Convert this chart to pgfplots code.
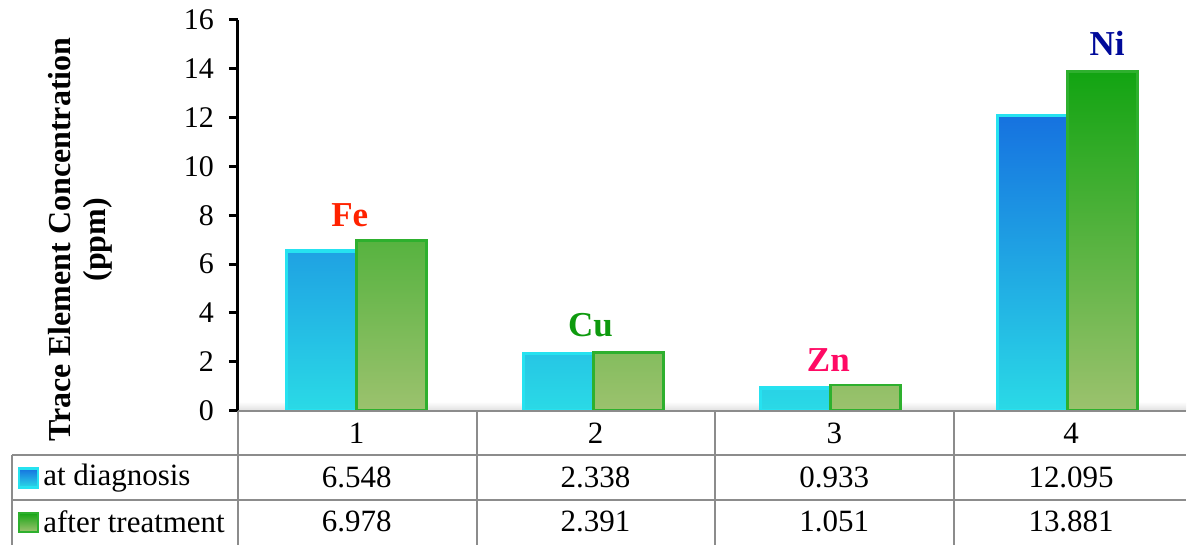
\documentclass[border=0pt]{standalone}
\usepackage{pgfplots}
\pgfplotsset{compat=1.18}
\usepackage{fontspec}
\setmainfont{Liberation Serif}
\definecolor{diagtop}{HTML}{1672E0}
\definecolor{diagmid}{HTML}{1E98E4}
\definecolor{diagbot}{HTML}{2ADAE6}
\definecolor{diagedge}{HTML}{26E2F0}
\definecolor{treattop}{HTML}{12A412}
\definecolor{treatmid}{HTML}{4AAE3A}
\definecolor{treatbot}{HTML}{9CC26E}
\definecolor{treatedge}{HTML}{2EB02E}
\definecolor{gridgrey}{HTML}{8C8C8C}
\definecolor{feRed}{HTML}{FF2200}
\definecolor{cuGreen}{HTML}{0E9A0E}
\definecolor{znPink}{HTML}{FF0A64}
\definecolor{niBlue}{HTML}{000A9A}
\begin{document}
\begin{tikzpicture}
\begin{scope}[x=0.5pt,y=-0.5pt]
\path (0,0) rectangle (1187,545);
% floor
\shade[top color=white,bottom color=black!12] (238,402) rectangle (1187,411);
\end{scope}
\begin{axis}[
  at={(119pt,-205.5pt)}, anchor=south west,
  scale only axis, width=474.5pt, height=195.5pt,
  xmin=0.5, xmax=4.5, ymin=0, ymax=16,
  ytick={0,2,...,16}, xtick=\empty,
  axis x line=none, axis y line=left,
  axis line style={-, black, line width=1.5pt},
  y axis line style={-},
  tick align=outside, major tick length=4.5pt,
  ytick style={black, line width=1.5pt},
  yticklabel style={font=\fontsize{15}{16}\selectfont, xshift=-4pt},
  /pgf/number format/assume math mode=true,
  ybar=0pt, bar width=35pt,
  clip=false,
]
\addplot[draw=diagedge, line width=1.8pt, top color=diagtop, middle color=diagmid, bottom color=diagbot]
  coordinates {(1,6.548) (2,2.338) (3,0.933) (4,12.095)};
\addplot[draw=treatedge, line width=1.4pt, top color=treattop, middle color=treatmid, bottom color=treatbot]
  coordinates {(1,6.978) (2,2.391) (3,1.051) (4,13.881)};
\end{axis}
\begin{scope}[x=0.5pt,y=-0.5pt]
% floor line
\draw[gridgrey, line width=1pt] (238,411) -- (1187,411);
% table lines
\draw[gridgrey, line width=1pt] (12,455.5) -- (1187,455.5);
\draw[gridgrey, line width=1pt] (12,500.5) -- (1187,500.5);
\draw[gridgrey, line width=1pt] (12,455) -- (12,545);
\foreach \xx in {238,477,716,955} \draw[gridgrey, line width=1pt] (\xx,411.5) -- (\xx,545);
% element labels
\node[font=\fontsize{17.5}{20}\selectfont\bfseries, text=feRed] at (350,215) {Fe};
\node[font=\fontsize{17.5}{20}\selectfont\bfseries, text=cuGreen] at (591,325) {Cu};
\node[font=\fontsize{17.5}{20}\selectfont\bfseries, text=znPink] at (829,360) {Zn};
\node[font=\fontsize{17.5}{20}\selectfont\bfseries, text=niBlue] at (1108,43) {Ni};
% y label
\node[rotate=90, align=center, font=\fontsize{16}{17.5}\selectfont\bfseries] at (80,240) {Trace Element Concentration\\(ppm)};
% table text
\foreach \cx/\lab in {357/1,596/2,835/3,1072/4}
  \node[font=\fontsize{15.5}{17}\selectfont] at (\cx,434) {\lab};
\foreach \cx/\lab in {357/6.548,596/2.338,835/0.933,1072/12.095}
  \node[font=\fontsize{15.5}{17}\selectfont] at (\cx,478) {\lab};
\foreach \cx/\lab in {357/6.978,596/2.391,835/1.051,1072/13.881}
  \node[font=\fontsize{15.5}{17}\selectfont] at (\cx,522) {\lab};
\node[font=\fontsize{15.5}{17}\selectfont, anchor=west, inner sep=0pt] at (43,478) {at diagnosis};
\node[font=\fontsize{15.5}{17}\selectfont, anchor=west, inner sep=0pt] at (43,522) {after treatment};
% legend icons
\shade[top color=diagtop, bottom color=diagbot, draw=diagedge, line width=1.2pt] (19,469) rectangle (38,488);
\shade[top color=treattop, bottom color=treatbot, draw=treatedge, line width=1pt] (19,513) rectangle (38,532);
\end{scope}
\end{tikzpicture}
\end{document}
